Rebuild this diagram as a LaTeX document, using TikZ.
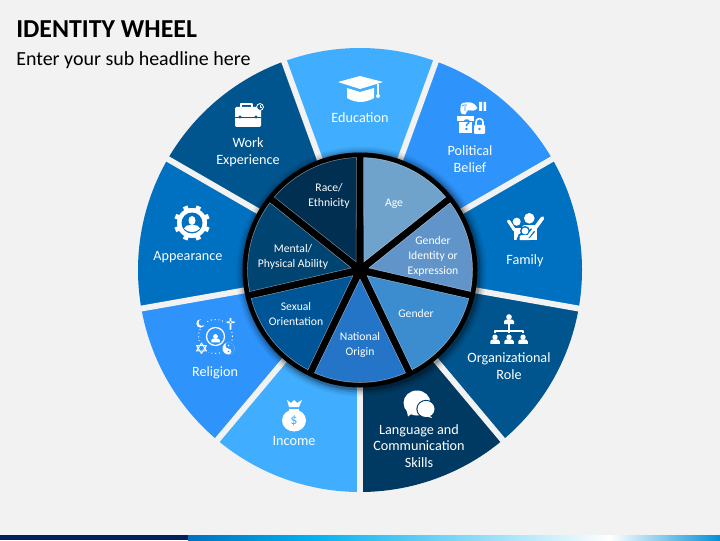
\documentclass[tikz,border=0pt]{standalone}
\usepackage{fontspec}
\setmainfont{Carlito}
\definecolor{pagebg}{HTML}{F2F2F2}
\definecolor{skyblue}{HTML}{41ADFF}
\definecolor{midblue}{HTML}{2E93FB}
\definecolor{royal}{HTML}{0070C0}
\definecolor{deepblue}{HTML}{00558F}
\definecolor{navy}{HTML}{003A63}
\definecolor{barnavy}{HTML}{002060}
\definecolor{barcyan}{HTML}{00B0F0}
\definecolor{barend}{HTML}{0090D8}
\tikzset{
	outertext/.style={text=white, align=center, font=\fontsize{10.1}{12}\selectfont},
	innertext/.style={text=white, align=center, font=\fontsize{8.3}{10.6}\selectfont},
	person/.pic={
		\fill[white] (0,3) circle (2.8);
		\fill[white] (-5,-4) -- (-5,-1.5) to[out=90,in=180] (-1.5,0.6) -- (1.5,0.6) to[out=0,in=90] (5,-1.5) -- (5,-4) -- cycle;
	}
}
\begin{document}
\begin{tikzpicture}[x=0.025cm, y=0.025cm, line join=round]
	%%%%%%%%%%%%%%%%%%%%%%%%%%%%%%%%%
	\useasboundingbox (0,0) rectangle (720,540);
	\fill[pagebg] (0,0) rectangle (720,540);
	\coordinate (O) at (360,270);
	%%%%%%%%%%%%%%%%%%%%%%%%%%%%%%%%%
	% bottom bar
	\fill[barnavy] (0,0) rectangle (188,5);
	\shade[left color=royal, right color=barcyan] (188,0) rectangle (310,5);
	\shade[left color=barcyan, right color=white] (310,0) rectangle (610,5);
	\shade[left color=white, right color=barend] (610,0) rectangle (720,5);
	%%%%%%%%%%%%%%%%%%%%%%%%%%%%%%%%%
	% title
	\node[anchor=west, inner sep=0pt, font=\fontsize{18.4}{20}\selectfont\bfseries] (title) at (16,510.5) {IDENTITY WHEEL};
	\node[anchor=west, inner sep=0pt, font=\fontsize{14.2}{16}\selectfont] (subtitle) at (16,480) {Enter your sub headline here};
	%%%%%%%%%%%%%%%%%%%%%%%%%%%%%%%%%
	% outer wheel
	\begin{scope}[shift={(O)}]
		\foreach \a/\col in {110/skyblue, 70/midblue, 30/royal, -10/deepblue, -50/navy, -90/skyblue, -130/midblue, -170/royal, -210/deepblue}
			\fill[\col] (0,0) -- (\a:222) arc (\a:\a-40:222) -- cycle;
		\foreach \a in {110, 70, 30, -10, -50, -90, -130, -170, -210}
			\draw[pagebg, line width=4.2pt] (0,0) -- (\a:225);
		% shadow of the ring
		\foreach \r/\op in {125/0.05, 123/0.08, 121/0.12, 119/0.2}
			\fill[black, opacity=\op] (1.5,-1.5) circle (\r);
		\fill[black] (0,0) circle (117.5);
		% inner wheel
		\foreach \a/\col in {90/6FA3CC, 38.57/6194C9, -12.86/3C8CD0, -64.29/2475C8, -115.71/005596, -167.14/004472, -218.57/002F52} {
			\definecolor{wedgecol}{HTML}{\col}
			\filldraw[fill=wedgecol, draw=white, draw opacity=0.45, line width=0.4pt] (\a-51.43+1.8:112.5) arc (\a-51.43+1.8:\a-1.8:112.5) -- (\a-25.7:9) -- cycle;
		}
		\foreach \a in {90, 38.57, -12.86, -64.29, -115.71, -167.14, -218.57}
			\draw[black, line width=4.2pt] (0,0) -- (\a:114);
	\end{scope}
	%%%%%%%%%%%%%%%%%%%%%%%%%%%%%%%%%
	% outer labels
	\node[outertext] (education) at (360,422) {Education};
	\node[outertext] (political) at (470,380.5) {Political\\Belief};
	\node[outertext] (family) at (525,279) {Family};
	\node[outertext] (organizational) at (509,173.5) {Organizational\\Role};
	\node[outertext] (language) at (419,94) {Language and\\Communication\\Skills};
	\node[outertext] (income) at (294,99) {Income};
	\node[outertext] (religion) at (215,167) {Religion};
	\node[outertext] (appearance) at (188,283) {Appearance};
	\node[outertext] (work) at (248,387.5) {Work\\Experience};
	% inner labels
	\node[innertext] (race) at (329,344) {Race/\\Ethnicity};
	\node[innertext] (age) at (394,336.5) {Age};
	\node[innertext] (identity) at (433,284) {Gender\\Identity or\\Expression};
	\node[innertext] (gender) at (416,226.5) {Gender};
	\node[innertext] (national) at (360,195) {National\\Origin};
	\node[innertext] (sexual) at (296,226) {Sexual\\Orientation};
	\node[innertext] (mental) at (293,283) {Mental/\\Physical Ability};
	%%%%%%%%%%%%%%%%%%%%%%%%%%%%%%%%%
	% education icon
	\begin{scope}[shift={(360,450)}]
		\fill[white] (-22,8) -- (0,14) -- (23,8) -- (0,1) -- cycle;
		\fill[white] (-13,2) -- (0,-2) -- (14,2) -- (14,-8) to[out=-150,in=-30] (-13,-8) -- cycle;
		\draw[white, line width=0.8pt] (18,6) -- (18,-5);
		\fill[white] (18,-6) circle (2);
	\end{scope}
	% work icon
	\begin{scope}[shift={(248,425)}]
		\draw[white, line width=1.4pt] (-7,8) -- (-7,11) -- (4,11) -- (4,8);
		\fill[white, rounded corners=1pt] (-13,-12) rectangle (13,8);
		\draw[deepblue, line width=0.7pt] (-13,-2) -- (13,-2);
		\fill[deepblue] (-8,-2) circle (1.6) (8,-2) circle (1.6);
		\filldraw[fill=deepblue, draw=white, line width=0.6pt] (12,8) circle (3.4);
		\draw[white, line width=0.4pt] (12,10) -- (12,8) -- (14,8);
	\end{scope}
	% appearance icon
	\begin{scope}[shift={(192,317)}]
		\foreach \a in {0,45,...,315}
			\draw[white, line width=3.4pt] (\a+22.5:12) -- (\a+22.5:18);
		\fill[white] (0,0) circle (15);
		\fill[royal] (0,0) circle (10.5);
		\fill[white] (0,2.5) ellipse (3.5 and 4.5);
		\fill[white] (-8,-5.5) to[out=70,in=180] (-2,-2) -- (2,-2) to[out=0,in=110] (8,-5.5) to[out=-130,in=-50] (-8,-5.5);
	\end{scope}
	% political icon
	\begin{scope}[shift={(470,421)}]
		% hand
		\fill[white, rounded corners=2pt] (-9,16) -- (1,17) -- (7,13) -- (7,9) -- (0,8) -- (-3,10) -- (-3,6) -- (-6,4) -- (-10,6) -- cycle;
		\draw[midblue, line width=0.5pt] (-8,13) to[out=60,in=180] (-3,14) (-5,8) -- (-5,13);
		\fill[white] (9,8) rectangle (12,17) (13.5,8) rectangle (16,17);
		% box
		\fill[white] (-13,-2) rectangle (4,3);
		\fill[white] (-11,-14) rectangle (2,-3);
		\node[text=midblue, inner sep=0pt, font=\fontsize{11}{11}\selectfont\bfseries] (question) at (-3,-6) {?};
		% padlock
		\draw[white, line width=1.1pt] (6,-7) -- (6,-3) arc (180:0:3.5) -- (13,-7);
		\fill[white, rounded corners=0.8pt] (4,-15) rectangle (15,-6);
		\fill[midblue] (9.5,-10) circle (1.4);
	\end{scope}
	% family icon
	\begin{scope}[shift={(525,313)}]
		\fill[white] (4.3,8.7) circle (5.3);
		\fill[white] (-8.3,5.3) circle (4);
		\draw[white, line width=2.2pt, line cap=round] (-16.5,6) -- (-10.5,-3) -- (-6,-3);
		\draw[white, line width=2.6pt, line cap=round] (17.5,9) -- (11,0) -- (-1,0);
		\fill[white] (-11.5,-13) rectangle (11.7,-1);
		\fill[royal] (0,-4) circle (5);
		\draw[royal, line width=3.8pt] (-6,-14) -- (-4,-8.5) -- (3,-9) -- (8,-3);
		\fill[white] (0,-4) circle (3.4);
		\draw[white, line width=1.8pt, line cap=round] (-4,-9.5) -- (3,-9.5) -- (8,-3);
		\fill[white] (-5,-9) -- (3,-9) -- (4,-13) -- (-5.5,-13) -- cycle;
	\end{scope}
	% organizational icon
	\begin{scope}[shift={(509,211)}]
		\path (0,9) pic {person};
		\draw[white, line width=0.8pt] (0,5) -- (0,-2) (-14,-4) -- (-14,-2) -- (14,-2) -- (14,-4) (0,-2) -- (0,-4);
		\path (-14,-11) pic[scale=0.95] {person};
		\path (0,-11) pic[scale=0.95] {person};
		\path (14,-11) pic[scale=0.95] {person};
	\end{scope}
	% language icon
	\begin{scope}[shift={(417,137)}]
		\fill[white] (0,0) ellipse (13.5 and 12.5);
		\fill[white] (-11,-4) -- (-9,-13.5) -- (-2,-8) -- cycle;
		\draw[navy, line width=0.9pt] (9,-6) ellipse (9 and 8.5);
		\fill[white] (9,-6) ellipse (8.5 and 8);
		\fill[white] (11,-11) -- (15,-15) -- (8,-13) -- cycle;
	\end{scope}
	% income icon
	\begin{scope}[shift={(294,125)}]
		\fill[white] (-7,15) -- (-3,12) -- (0,15) -- (3,12) -- (8,15) -- (5,8) -- (-5,8) -- cycle;
		\fill[white] (0,-5.5) ellipse (12 and 11);
		\fill[white] (-5,7) rectangle (5,1);
		\draw[skyblue, line width=0.7pt] (-5,7) -- (5,7);
		\node[text=skyblue, inner sep=0pt, font=\fontsize{10}{10}\selectfont] (dollar) at (0,-5.5) {\$};
	\end{scope}
	% religion icon
	\begin{scope}[shift={(215.5,203.5)}]
		\draw[white, line width=0.7pt, dotted] (0,0) circle (17);
		\fill[midblue] (-15,15) circle (6) (14,15) circle (6) (-14,-12) circle (8) (13,-12) circle (8);
		\draw[white, line width=0.9pt] (0,0) circle (9);
		\path (0,-2.5) pic[scale=0.85] {person};
		\fill[white] (-15,13) circle (4.2);
		\fill[midblue] (-13.5,14) circle (3.4);
		\fill[white] (14,18.5) -- (14,7) -- (15.8,7) -- (15.8,18.5) -- cycle (11,13.5) rectangle (19,15.2);
		\draw[white, line width=0.7pt] (-14,-6.5) -- (-19,-14.5) -- (-9,-14.5) -- cycle (-14,-17) -- (-19,-9) -- (-9,-9) -- cycle;
		\fill[white] (13,-12) circle (6);
		\fill[midblue] (13,-6) arc (90:-90:6) arc (-90:90:3) arc (270:90:3) -- cycle;
		\fill[white] (13,-9) circle (0.9);
		\fill[midblue] (13,-15) circle (0.9);
	\end{scope}
	%%%%%%%%%%%%%%%%%%%%%%%%%%%%%%%%%
\end{tikzpicture}
\end{document}
